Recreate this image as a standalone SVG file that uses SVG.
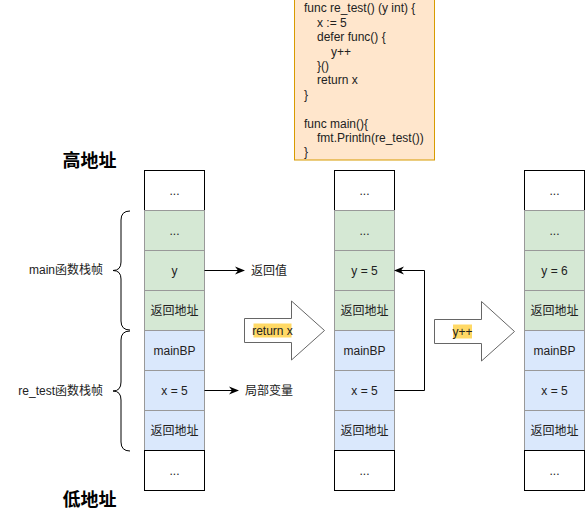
<svg xmlns="http://www.w3.org/2000/svg" width="585" height="512" viewBox="0 0 585 512">
<style>
text{font-family:"Liberation Sans",Arial,"Noto Sans CJK SC",sans-serif;font-size:12px;fill:#222}
.c{text-anchor:middle;dominant-baseline:central}
.w{fill:#fff;stroke:#000;stroke-width:1}
.g{fill:#d5e8d4;stroke:#999;stroke-width:1}
.b{fill:#dae8fc;stroke:#999;stroke-width:1}
.big{font-size:18px;font-weight:bold;fill:#000}
.ln{fill:none;stroke:#000;stroke-width:1}
.blk{fill:#fff;stroke:#666;stroke-width:1}
.hl{fill:#ffd966}
.code{dominant-baseline:central}
</style>
<defs>
<marker id="ah" viewBox="0 0 10 10" refX="9" refY="5" markerWidth="10" markerHeight="10" markerUnits="userSpaceOnUse" orient="auto">
<path d="M0,1 L10,5 L0,9 L3,5 Z" fill="#000"/>
</marker>
</defs>

<g id="code">
<rect x="294.5" y="-1" width="140" height="161" fill="#ffe6cc" stroke="#d79b00"/>
<text class="code" x="304" y="8">func re_test() (y int) {</text>
<text class="code" x="317" y="22.5">x := 5</text>
<text class="code" x="317" y="37">defer func() {</text>
<text class="code" x="331" y="51.5">y++</text>
<text class="code" x="317" y="66">}()</text>
<text class="code" x="317" y="80">return x</text>
<text class="code" x="304" y="94.5">}</text>
<text class="code" x="304" y="123.5">func main(){</text>
<text class="code" x="317" y="138">fmt.Println(re_test())</text>
<text class="code" x="304" y="152">}</text>
</g>

<g id="labels">
<text class="big c" x="89.5" y="160.5">高地址</text>
<text class="big c" x="89.5" y="499.5">低地址</text>
<text x="103" y="270" text-anchor="end" dominant-baseline="central">main函数栈帧</text>
<text x="103" y="391" text-anchor="end" dominant-baseline="central">re_test函数栈帧</text>
</g>

<g id="braces">
<path class="ln" d="M130,211 Q121,211 121,220 L121,262 Q121,270.5 113,270.5 Q121,270.5 121,279 L121,321 Q121,330 130,330"/>
<path class="ln" d="M130,331 Q121,331 121,340 L121,382 Q121,391 113,391 Q121,391 121,400 L121,442 Q121,451 130,451"/>
</g>

<g id="stack1">
<rect class="w" x="144.5" y="170.5" width="60" height="40"/><text class="c" x="174.5" y="190.5">...</text>
<rect class="g" x="144.5" y="210.5" width="60" height="40"/><text class="c" x="174.5" y="230.5">...</text>
<rect class="g" x="144.5" y="250.5" width="60" height="40"/><text class="c" x="174.5" y="270.5">y</text>
<rect class="g" x="144.5" y="290.5" width="60" height="40"/><text class="c" x="174.5" y="310.5">返回地址</text>
<rect class="b" x="144.5" y="330.5" width="60" height="40"/><text class="c" x="174.5" y="350.5">mainBP</text>
<rect class="b" x="144.5" y="370.5" width="60" height="40"/><text class="c" x="174.5" y="390.5">x = 5</text>
<rect class="b" x="144.5" y="410.5" width="60" height="40"/><text class="c" x="174.5" y="430.5">返回地址</text>
<rect class="w" x="144.5" y="450.5" width="60" height="40"/><text class="c" x="174.5" y="470.5">...</text>
</g>

<g id="stack2">
<rect class="w" x="334.5" y="170.5" width="60" height="40"/><text class="c" x="364.5" y="190.5">...</text>
<rect class="g" x="334.5" y="210.5" width="60" height="40"/><text class="c" x="364.5" y="230.5">...</text>
<rect class="g" x="334.5" y="250.5" width="60" height="40"/><text class="c" x="364.5" y="270.5">y = 5</text>
<rect class="g" x="334.5" y="290.5" width="60" height="40"/><text class="c" x="364.5" y="310.5">返回地址</text>
<rect class="b" x="334.5" y="330.5" width="60" height="40"/><text class="c" x="364.5" y="350.5">mainBP</text>
<rect class="b" x="334.5" y="370.5" width="60" height="40"/><text class="c" x="364.5" y="390.5">x = 5</text>
<rect class="b" x="334.5" y="410.5" width="60" height="40"/><text class="c" x="364.5" y="430.5">返回地址</text>
<rect class="w" x="334.5" y="450.5" width="60" height="40"/><text class="c" x="364.5" y="470.5">...</text>
</g>

<g id="stack3">
<rect class="w" x="524.5" y="170.5" width="60" height="40"/><text class="c" x="554.5" y="190.5">...</text>
<rect class="g" x="524.5" y="210.5" width="60" height="40"/><text class="c" x="554.5" y="230.5">...</text>
<rect class="g" x="524.5" y="250.5" width="60" height="40"/><text class="c" x="554.5" y="270.5">y = 6</text>
<rect class="g" x="524.5" y="290.5" width="60" height="40"/><text class="c" x="554.5" y="310.5">返回地址</text>
<rect class="b" x="524.5" y="330.5" width="60" height="40"/><text class="c" x="554.5" y="350.5">mainBP</text>
<rect class="b" x="524.5" y="370.5" width="60" height="40"/><text class="c" x="554.5" y="390.5">x = 5</text>
<rect class="b" x="524.5" y="410.5" width="60" height="40"/><text class="c" x="554.5" y="430.5">返回地址</text>
<rect class="w" x="524.5" y="450.5" width="60" height="40"/><text class="c" x="554.5" y="470.5">...</text>
</g>

<g id="arrow-return">
<path class="blk" d="M244.5,318.5 L291.5,318.5 L291.5,301 L324.5,330.5 L291.5,360 L291.5,342.5 L244.5,342.5 Z"/>
<rect class="hl" x="253.5" y="323.5" width="38" height="14"/>
<text class="c" x="272.5" y="330.5">return x</text>
</g>

<g id="arrow-inc">
<path class="blk" d="M434.5,319.5 L481.5,319.5 L481.5,301.5 L514.5,331.5 L481.5,361 L481.5,343.5 L434.5,343.5 Z"/>
<rect class="hl" x="453" y="324.5" width="19" height="14"/>
<text class="c" x="462.5" y="331.5">y++</text>
</g>

<g id="side-labels">
<text x="251" y="270.5" dominant-baseline="central">返回值</text>
<text x="245" y="390.5" dominant-baseline="central">局部变量</text>
</g>

<g id="connectors">
<path class="ln" d="M204.5,270.5 L244,270.5" marker-end="url(#ah)"/>
<path class="ln" d="M204.5,390.5 L238,390.5" marker-end="url(#ah)"/>
<path class="ln" d="M394.5,390.5 L424.5,390.5 L424.5,270.5 L395,270.5" marker-end="url(#ah)"/>
</g>
</svg>
